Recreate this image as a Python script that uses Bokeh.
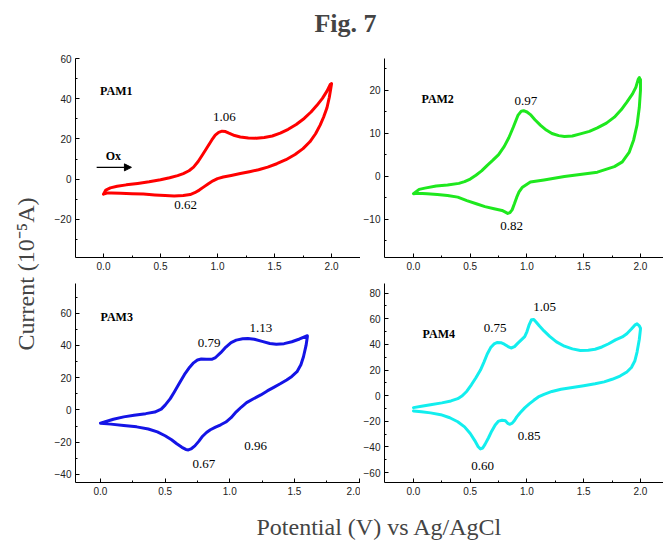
from bokeh.plotting import figure
from bokeh.layouts import column, row
from bokeh.models import (Label, Arrow, NormalHead, FixedTicker, PrintfTickFormatter, Range1d)
from bokeh.embed import file_html
from bokeh.resources import INLINE

# ---------------- data (potential V, current 1e-5 A) ----------------
p1_fwd_v = [0.0, 0.02, 0.06, 0.12, 0.2, 0.3, 0.4, 0.5, 0.58, 0.65, 0.7, 0.75, 0.79, 0.83, 0.87, 0.91, 0.95, 0.98,
            1.01, 1.04, 1.07, 1.1, 1.15, 1.2, 1.27, 1.34, 1.41, 1.48, 1.55, 1.62, 1.69, 1.76, 1.82, 1.87, 1.92, 1.96, 1.99]
p1_fwd_i = [-7.4, -5.4, -4.3, -3.5, -2.8, -2.1, -1.3, -0.3, 0.7, 1.8, 2.8, 4.2, 6.0, 8.8, 12.3, 15.9, 19.5, 21.9,
            23.3, 23.9, 23.7, 22.9, 21.7, 21.0, 20.5, 20.4, 20.7, 21.5, 22.9, 24.8, 27.2, 30.2, 33.4, 36.6, 40.2, 43.8, 47.2]
p1_rev_v = [2.0, 1.99, 1.98, 1.96, 1.93, 1.9, 1.86, 1.81, 1.75, 1.68, 1.6, 1.52, 1.44, 1.36, 1.28, 1.2, 1.12, 1.05,
            1.0, 0.96, 0.92, 0.88, 0.84, 0.8, 0.76, 0.7, 0.62, 0.54, 0.45, 0.35, 0.25, 0.15, 0.07, 0.03, 0.0]
p1_rev_i = [47.5, 44.0, 40.6, 35.5, 30.8, 26.9, 22.6, 18.6, 15.2, 12.3, 9.7, 7.7, 6.0, 4.7, 3.7, 2.8, 1.9, 1.1,
            0.3, -0.8, -2.2, -3.8, -5.4, -6.7, -7.6, -8.1, -8.3, -8.1, -7.8, -7.4, -7.2, -7.0, -6.8, -6.9, -7.4]

p2_fwd_v = [0.0, 0.05, 0.1, 0.2, 0.3, 0.4, 0.45, 0.5, 0.55, 0.6, 0.65, 0.7, 0.75, 0.8, 0.84, 0.88, 0.92, 0.95,
            0.97, 1.0, 1.03, 1.07, 1.12, 1.17, 1.22, 1.28, 1.33, 1.4, 1.47, 1.55, 1.62, 1.7, 1.77, 1.83, 1.88, 1.93,
            1.96, 1.98, 1.99]
p2_fwd_i = [-4.0, -3.0, -2.7, -2.2, -2.0, -1.6, -1.2, -0.6, 0.3, 1.3, 2.6, 3.8, 5.1, 7.0, 9.0, 11.5, 14.2, 15.2,
            15.3, 15.0, 14.4, 13.2, 11.9, 10.8, 10.0, 9.5, 9.3, 9.4, 9.9, 10.5, 11.3, 12.4, 13.8, 15.5, 17.3, 19.2,
            20.8, 22.6, 23.0]
p2_rev_v = [2.0, 2.0, 1.99, 1.97, 1.94, 1.9, 1.84, 1.77, 1.62, 1.45, 1.33, 1.15, 1.03, 0.96, 0.93, 0.91, 0.89,
            0.87, 0.85, 0.83, 0.81, 0.78, 0.71, 0.63, 0.56, 0.47, 0.39, 0.3, 0.21, 0.12, 0.04, 0.0]
p2_rev_i = [22.5, 20.0, 16.1, 12.0, 8.5, 5.6, 3.4, 2.3, 1.0, 0.4, 0.0, -0.8, -1.3, -2.5, -3.6, -4.8, -6.3,
            -7.7, -8.4, -8.6, -8.3, -7.9, -7.5, -7.0, -6.4, -5.6, -4.8, -4.4, -4.2, -4.0, -3.9, -4.0]

p3_fwd_v = [0.0, 0.05, 0.1, 0.18, 0.26, 0.35, 0.42, 0.47, 0.5, 0.54, 0.57, 0.61, 0.65, 0.69, 0.72, 0.75, 0.78,
            0.82, 0.86, 0.89, 0.93, 0.97, 1.01, 1.05, 1.1, 1.14, 1.19, 1.25, 1.31, 1.36, 1.42, 1.48, 1.54, 1.6]
p3_fwd_i = [-8.2, -7.0, -5.8, -4.3, -3.3, -2.3, -1.3, 0.5, 3.0, 7.0, 11.0, 16.5, 22.0, 26.5, 29.2, 31.0, 31.6,
            31.5, 31.4, 32.5, 35.5, 39.0, 41.8, 43.3, 44.1, 44.3, 43.8, 42.5, 41.2, 40.7, 41.1, 42.3, 44.0, 46.0]
p3_rev_v = [1.6, 1.59, 1.57, 1.55, 1.52, 1.48, 1.44, 1.39, 1.34, 1.29, 1.24, 1.18, 1.13, 1.09, 1.05, 1.01, 0.97,
            0.93, 0.89, 0.85, 0.82, 0.79, 0.76, 0.73, 0.7, 0.68, 0.66, 0.63, 0.59, 0.55, 0.5, 0.44, 0.37, 0.28, 0.18,
            0.08, 0.0]
p3_rev_i = [45.4, 40.0, 33.0, 28.0, 23.7, 20.8, 18.6, 16.2, 14.0, 11.8, 9.3, 6.8, 4.5, 1.8, -1.2, -4.8, -7.5,
            -9.2, -10.7, -12.3, -14.0, -16.3, -19.5, -22.3, -24.2, -24.8, -24.5, -23.2, -21.0, -18.5, -16.0, -13.6,
            -11.8, -10.5, -9.6, -8.8, -8.2]

p4_fwd_v = [0.0, 0.07, 0.15, 0.25, 0.33, 0.39, 0.43, 0.47, 0.51, 0.55, 0.59, 0.62, 0.65, 0.68, 0.71, 0.74, 0.77,
            0.8, 0.83, 0.86, 0.89, 0.92, 0.95, 0.98, 1.0, 1.02, 1.04, 1.06, 1.08, 1.11, 1.15, 1.2, 1.26, 1.33, 1.4,
            1.47, 1.54, 1.6, 1.66, 1.72, 1.78, 1.84, 1.88, 1.92, 1.95, 1.97, 1.99, 2.0]
p4_fwd_i = [-9.3, -8.3, -7.0, -5.6, -4.1, -2.3, 0.0, 3.5, 8.5, 14.0, 20.0, 26.0, 32.5, 37.5, 40.4, 41.5, 41.3,
            40.2, 38.5, 37.2, 38.3, 41.0, 43.5, 46.0, 50.0, 55.5, 59.3, 59.5, 57.5, 54.3, 50.5, 46.3, 42.0, 38.6, 36.5,
            35.3, 35.4, 36.2, 38.0, 40.5, 43.5, 45.8, 48.3, 52.0, 55.0, 56.0, 54.5, 52.6]
p4_rev_v = [2.0, 1.99, 1.97, 1.95, 1.92, 1.88, 1.82, 1.75, 1.68, 1.6, 1.5, 1.4, 1.3, 1.22, 1.15, 1.1, 1.06, 1.02,
            0.98, 0.94, 0.91, 0.89, 0.87, 0.85, 0.83, 0.81, 0.78, 0.75, 0.72, 0.69, 0.66, 0.63, 0.61, 0.59, 0.57,
            0.54, 0.5, 0.45, 0.39, 0.32, 0.24, 0.15, 0.07, 0.0]
p4_rev_i = [51.9, 44.0, 34.0, 27.0, 22.0, 18.5, 15.3, 12.8, 10.8, 9.3, 7.8, 6.4, 5.0, 3.3, 1.0, -1.0, -3.6, -6.4,
            -9.5, -13.3, -16.5, -19.3, -21.4, -22.3, -21.5, -19.6, -19.1, -19.8, -22.8, -27.5, -33.0, -38.0, -40.8,
            -41.5, -39.8, -35.0, -29.5, -24.3, -20.3, -17.2, -14.8, -13.4, -12.5, -11.9]

x_major = [0.0, 0.5, 1.0, 1.5, 2.0]
x_minor = [0.25, 0.75, 1.25, 1.75, 2.25]

SERIF = "Liberation Serif"
SANS = "Liberation Sans"


def panel(width, height, xr, yr, ymaj, ymin, mb):
    p = figure(width=width, height=height, output_backend="svg", toolbar_location=None,
               x_range=Range1d(*xr), y_range=Range1d(*yr),
               min_border_left=mb[0], min_border_right=mb[1],
               min_border_top=mb[2], min_border_bottom=mb[3],
               outline_line_color=None, background_fill_color="white")
    p.grid.visible = False
    p.xaxis.ticker = FixedTicker(ticks=x_major, minor_ticks=x_minor)
    p.yaxis.ticker = FixedTicker(ticks=ymaj, minor_ticks=ymin)
    p.xaxis.formatter = PrintfTickFormatter(format="%.1f")
    for ax in (p.xaxis[0], p.yaxis[0]):
        ax.major_tick_in = 4
        ax.major_tick_out = 0
        ax.minor_tick_in = 2
        ax.minor_tick_out = 0
        ax.axis_line_color = "black"
        ax.major_tick_line_color = "black"
        ax.minor_tick_line_color = "black"
        ax.major_label_text_font = SANS
        ax.major_label_text_font_size = "10px"
        ax.major_label_text_color = "#222222"
        ax.major_label_standoff = 4
    return p


def txt(p, x, y, s, size="13px", bold=False, align="center"):
    p.add_layout(Label(x=x, y=y, text=s, text_font=SERIF, text_font_size=size,
                       text_font_style="bold" if bold else "normal",
                       text_align=align, text_baseline="middle", text_color="black"))


def loop(p, fv, fi, rv, ri, color):
    p.line(fv + rv, fi + ri, line_color=color, line_width=3.0, line_join="round", line_cap="round")


# ---- panel 1
p1 = panel(320, 230, (-0.2456, 2.254), (-38.9, 60), [-20, 0, 20, 40, 60], [-30, -10, 10, 30, 50], (35, 0, 9, 20))
loop(p1, p1_fwd_v, p1_fwd_i, p1_rev_v, p1_rev_i, "#ff0000")
txt(p1, -0.03, 43.6, "PAM1", size="12px", bold=True, align="left")
txt(p1, 1.06, 31.1, "1.06")
txt(p1, 0.72, -12.7, "0.62")
txt(p1, 0.02, 11.4, "Ox", size="12px", bold=True, align="left")
p1.add_layout(Arrow(x_start=-0.06, y_start=5.9, x_end=0.245, y_end=5.9, line_width=1.2,
                    end=NormalHead(size=7, fill_color="black", line_color="black")))

# ---- panel 2
p2 = panel(303, 230, (-0.2555, 2.203), (-18.84, 27.44), [-10, 0, 10, 20], [-15, -5, 5, 15, 25], (24, 0, 10, 21))
loop(p2, p2_fwd_v, p2_fwd_i, p2_rev_v, p2_rev_i, "#1ee81e")
txt(p2, 0.07, 18.0, "PAM2", size="12px", bold=True, align="left")
txt(p2, 0.99, 17.5, "0.97")
txt(p2, 0.865, -11.6, "0.82")

# ---- panel 3
p3 = panel(320, 227, (-0.193, 2.011), (-45, 78.4), [-40, -20, 0, 20, 40, 60], [-30, -10, 10, 30, 50, 70], (35, 0, 5, 22))
loop(p3, p3_fwd_v, p3_fwd_i, p3_rev_v, p3_rev_i, "#1414e6")
txt(p3, 0.0, 57.7, "PAM3", size="12px", bold=True, align="left")
txt(p3, 0.84, 41.6, "0.79")
txt(p3, 1.24, 51.0, "1.13")
txt(p3, 1.20, -22.3, "0.96")
txt(p3, 0.80, -33.4, "0.67")

# ---- panel 4
p4 = panel(303, 227, (-0.2555, 2.203), (-67.7, 87.5), [-60, -40, -20, 0, 20, 40, 60, 80], [-50, -30, -10, 10, 30, 50, 70], (24, 0, 5, 23))
loop(p4, p4_fwd_v, p4_fwd_i, p4_rev_v, p4_rev_i, "#12eeee")
txt(p4, 0.08, 48.0, "PAM4", size="12px", bold=True, align="left")
txt(p4, 0.72, 52.6, "0.75")
txt(p4, 1.155, 69.0, "1.05")
txt(p4, 1.02, -31.2, "0.85")
txt(p4, 0.61, -54.7, "0.60")


def blank(w, h):
    b = figure(width=w, height=h, output_backend="svg", toolbar_location=None,
               x_range=Range1d(0, 1), y_range=Range1d(0, 1), min_border=0,
               outline_line_color=None)
    b.axis.visible = False
    b.grid.visible = False
    return b


title = blank(663, 48)
title.add_layout(Label(x=345 / 663, y=1 - 22.5 / 48, text="Fig. 7", text_font=SERIF, text_font_size="26px",
                       text_font_style="bold", text_align="center", text_baseline="middle"))

ylab = blank(40, 457)
ylab.add_layout(Label(x=25 / 40, y=1 - (273.5 - 48) / 457, text="Current (10\u207b\u2075A)", text_font=SERIF,
                      text_font_size="24px", angle=1.5707963, text_align="center", text_baseline="middle"))

xlab = blank(663, 37)
xlab.add_layout(Label(x=379 / 663, y=1 - 21 / 37, text="Potential (V) vs Ag/AgCl", text_font=SERIF,
                      text_font_size="24px", text_align="center", text_baseline="middle"))

layout = column(title, row(ylab, column(row(p1, p2), row(p3, p4))), xlab)
open("out.html", "w").write(file_html(layout, INLINE))
